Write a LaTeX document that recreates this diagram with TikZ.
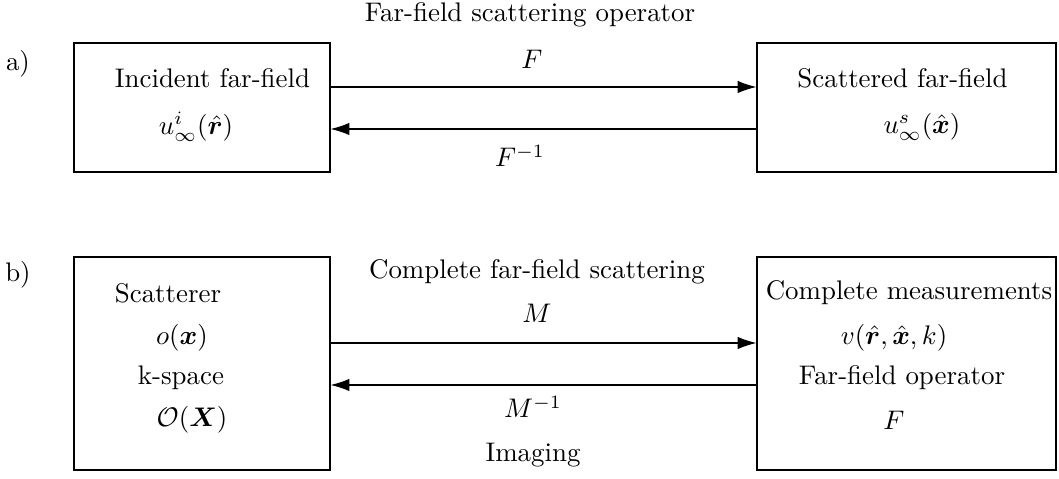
\documentclass[tikz,border=0pt]{standalone}
\usepackage{amsmath,bm}
\usetikzlibrary{arrows.meta}
\tikzset{
  blk/.style={draw, line width=0.4pt, minimum width=256\unitpx, minimum height=129\unitpx, inner sep=0pt},
  txt/.style={inner sep=0pt, anchor=center},
  link/.style={-{Latex[length=7pt,width=4.6pt]}, line width=0.4pt},
}
\newlength{\unitpx}
\setlength{\unitpx}{0.3718pt}
\begin{document}
\begin{tikzpicture}[x=\unitpx, y=-\unitpx]
\useasboundingbox (0,0) rectangle (1059,479);

% part a): far-field scattering operator
\node[txt] (ta) at (530,15) {Far-field scattering operator};
\node[txt] (la) at (18,64) {a)};
\node[blk] (inc) at (202,107.5) {};
\node[blk, minimum width=299\unitpx] (sca) at (906.5,107.5) {};
\node[txt] (inct) at (212.5,78) {Incident far-field};
\node[txt] (incm) at (196,127) {$u^i_\infty(\hat{\bm r})$};
\node[txt] (scat) at (902.5,78) {Scattered far-field};
\node[txt] (scam) at (922,127) {$u^s_\infty(\hat{\bm x})$};
\coordinate (fa) at (0,87);
\coordinate (ba) at (0,129);
\draw[link] (inc.east |- fa) -- (sca.west |- fa);
\draw[link] (sca.west |- ba) -- (inc.east |- ba);
\node[txt] (F) at (532,59) {$F$};
\node[txt] (Fi) at (520,156) {$F^{-1}$};

% part b): complete far-field scattering and imaging
\node[txt] (lb) at (18,275) {b)};
\node[txt] (tb) at (537,272) {Complete far-field scattering};
\node[blk, minimum height=213\unitpx] (obj) at (202,363.5) {};
\node[blk, minimum width=299\unitpx, minimum height=213\unitpx] (meas) at (906.5,363.5) {};
\node[txt] (o1) at (168,293) {Scatterer};
\node[txt] (o2) at (182,338) {$o(\bm x)$};
\node[txt] (o3) at (181,378) {k-space};
\node[txt] (o4) at (192,420) {$\mathcal{O}(\bm X)$};
\node[txt] (m1) at (909,293) {Complete measurements};
\node[txt] (m2) at (894,338) {$v(\hat{\bm r},\hat{\bm x},k)$};
\node[txt] (m3) at (902,378) {Far-field operator};
\node[txt] (m4) at (894,420) {$F$};
\coordinate (fb) at (0,343);
\coordinate (bb) at (0,385);
\draw[link] (obj.east |- fb) -- (meas.west |- fb);
\draw[link] (meas.west |- bb) -- (obj.east |- bb);
\node[txt] (M) at (537,313) {$M$};
\node[txt] (Mi) at (533,407) {$M^{-1}$};
\node[txt] (im) at (533,455) {Imaging};
\end{tikzpicture}
\end{document}
